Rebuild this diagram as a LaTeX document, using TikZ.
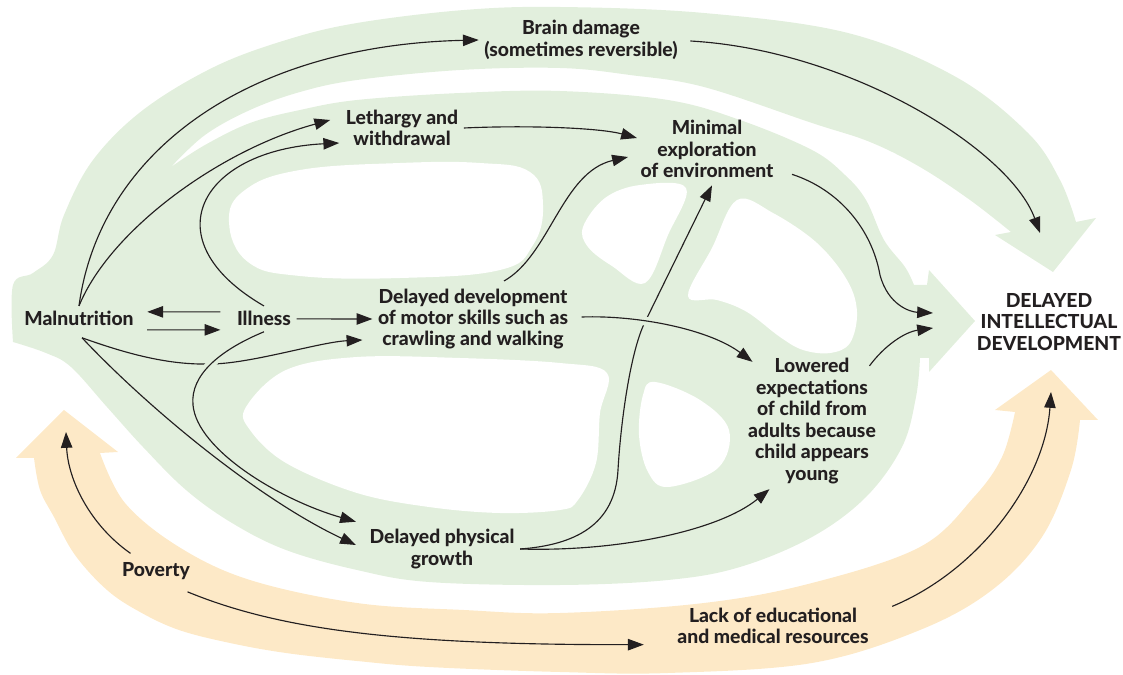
\documentclass[tikz,border=0pt]{standalone}
\usepackage{fontspec}
\setmainfont{Lato}[BoldFont={Lato Heavy}]
\usetikzlibrary{arrows.meta,calc}
\definecolor{leaf}{RGB}{226,239,221}
\definecolor{sand}{RGB}{253,233,199}
\definecolor{ink}{RGB}{35,31,32}
\tikzset{
	lbl/.style={font=\bfseries\fontsize{11}{12.2}\selectfont, text=ink, align=center, inner sep=3pt},
	arr/.style={draw=ink, line width=0.65pt, -{Triangle[length=9pt,width=6.5pt]}},
	cut/.style={preaction={draw=leaf, line width=5pt, arrows=-}}
}
\begin{document}
\begin{tikzpicture}[x=0.02cm, y=-0.02cm]
				\useasboundingbox (0,0) rectangle (1123,675);
				\fill[leaf] plot[smooth, tension=0.6] coordinates {(13,342) (13,285) (33,273) (53,255) (64,215) (93,160) (143,110) (214,67) (286,40) (357,23) (464,10) (560,7) (704,13) (848,33) (956,77) (1028,133) (1060,180) (1076,222)}
					-- (1096,218) -- (1053,272) -- (995,235) -- (1011,232)
					-- plot[smooth, tension=0.6] coordinates {(1011,232) (970,200) (920,167) (870,142) (812,123) (704,87) (630,75) (560,68) (460,70) (357,80) (300,92) (250,110) (205,135) (171,167)}
					-- plot[smooth, tension=0.6] coordinates {(171,167) (205,145) (250,123) (300,110) (357,100) (460,93) (560,91) (668,100) (740,120) (812,150) (845,175) (866,200) (884,240) (905,267) (914,285)}
					-- (927,285) -- (929,270) -- (975,321) -- (929,372) -- (929,358) -- (920,358)
					-- plot[smooth, tension=0.6] coordinates {(920,358) (916,397) (902,447) (866,497) (812,537) (740,567) (668,580) (560,585) (429,582) (357,570) (286,550) (232,523) (186,490) (143,447) (107,407) (71,367) (46,353) (13,342)} -- cycle;
				\fill[white] plot[smooth cycle, tension=0.7] coordinates {(229,222) (245,190) (300,170) (400,163) (480,163) (530,172) (543,205) (533,245) (500,270) (400,278) (300,276) (248,262)};
				\fill[white] plot[smooth cycle, tension=0.6] coordinates {(583,227) (605,198) (640,185) (686,188) (668,235) (645,283) (612,266) (588,247)};
				\fill[white] plot[smooth cycle, tension=0.6] coordinates {(737,200) (773,213) (817,243) (847,280) (857,312) (850,343) (830,353) (803,350) (780,337) (747,312) (717,300) (688,296) (712,248)};
				\fill[white] plot[smooth cycle, tension=0.6] coordinates {(246,407) (286,370) (357,357) (460,358) (560,363) (607,373) (600,413) (596,463) (578,500) (560,510) (500,513) (429,507) (357,493) (286,463) (250,430)};
				\fill[white] plot[smooth cycle, tension=0.6] coordinates {(655,382) (700,400) (729,430) (718,468) (668,487) (648,472) (639,435) (643,395)};
				\fill[sand] plot[smooth, tension=0.6] coordinates {(34,458) (40,490) (54,517) (75,555) (107,590) (140,612) (179,630) (230,643) (286,653) (357,661) (429,667) (560,672) (668,673) (812,663) (920,630) (992,590) (1042,537) (1071,470) (1080,420)}
					-- (1098,420) -- (1051,370) -- (995,410) -- (1015,412)
					-- plot[smooth, tension=0.6] coordinates {(1015,412) (1002,457) (974,497) (920,547) (812,583) (704,603) (560,613) (464,610) (357,603) (250,580) (179,547) (125,503) (100,453)}
					-- (118,452) -- (64,410) -- (16,458) -- cycle;
				\node[lbl] (brain) at (581,40) {Brain damage\\(sometimes reversible)};
				\node[lbl] (leth) at (402,128) {Lethargy and\\withdrawal};
				\node[lbl] (min) at (707,149) {Minimal\\exploration\\of environment};
				\node[lbl, anchor=base] (mal) at (79,326) {Malnutrition};
				\node[lbl, anchor=base] (ill) at (264,326) {Illness};
				\node[lbl] (dev) at (473,319) {Delayed development\\of motor skills such as\\crawling and walking};
				\node[lbl] (did) at (1049,322) {DELAYED\\INTELLECTUAL\\DEVELOPMENT};
				\node[lbl] (low) at (812,421) {Lowered\\expectations\\of child from\\adults because\\child appears\\young};
				\node[lbl] (phys) at (442,549) {Delayed physical\\growth};
				\node[lbl, anchor=base] (pov) at (156,577) {Poverty};
				\node[lbl] (lack) at (773,626) {Lack of educational\\and medical resources};
				\coordinate (did0) at (1040,233);
				\coordinate (did1) at (933,313);
				\coordinate (did2) at (933,328);
				\coordinate (did3) at (1051,392);
				\coordinate (malin) at (66,432);
				\draw[arr] (mal.north) .. controls (100,150) and (250,45) .. (brain.west);
				\draw[arr] (mal.north) .. controls (110,230) and (220,150) .. ($(leth.west)+(-10,-8)$);
				\draw[arr] (ill.north) .. controls (150,240) and (200,150) .. ($(leth.west)+(-1,15)$);
				\draw[arr] (leth.east) .. controls (530,125) and (600,128) .. ($(min.west)+(2,-11)$);
				\draw[arr] ($(dev.north)+(31,-2)$) .. controls (550,255) and (562,172) .. ($(min.west)+(-7,8)$);
				\draw[arr] (phys.east) .. controls (575,545) and (615,525) .. (618,470) .. controls (620.5,425) and (630,352) .. (645,322) -- ($(min.south)+(5,2)$);
				\draw[arr, cut] ($(dev.east)+(8,-2)$) .. controls (640,315) and (710,330) .. ($(low.north west)+(10,9)$);
				\draw[arr] (phys.east) .. controls (620,552) and (720,530) .. ($(low.south west)+(27,0)$);
				\draw[arr] ($(min.south east)+(13,-9)$) .. controls (840,190) and (872,230) .. (880,275) .. controls (888,305) and (910,312) .. (did1);
				\draw[arr] ($(low.north east)+(-12,13)$) .. controls (885,345) and (905,332) .. (did2);
				\draw[arr] ($(ill.west)+(-11,-7)$) -- ($(mal.east)+(8,-7)$);
				\draw[arr] ($(mal.east)+(8,11)$) -- ($(ill.west)+(-11,11)$);
				\draw[arr] (ill.east) -- (dev.west);
				\draw[arr] ($(mal.south)+(3,6)$) .. controls (130,355) and (170,365) .. (210,364) .. controls (250,364) and (320,342) .. ($(dev.west)+(-10,21)$);
				\draw[arr, cut] (ill.south) .. controls (220,350) and (190,375) .. (193,405) .. controls (197,450) and (280,500) .. ($(phys.north west)+(-8,-2)$);
				\draw[arr] ($(mal.south)+(3,6)$) .. controls (150,410) and (260,500) .. ($(phys.west)+(-8,-4)$);
				\draw[arr] ($(pov.north west)+(14,-4)$) .. controls (90,525) and (68,480) .. (malin);
				\draw[arr] ($(pov.south east)+(-8,6)$) .. controls (280,630) and (400,645) .. ($(lack.south west)+(-28,-5)$);
				\draw[arr] ($(lack.north east)+(18,4)$) .. controls (980,570) and (1045,480) .. (did3);
				\draw[arr] ($(brain.east)+(7,1)$) .. controls (850,50) and (1010,150) .. (did0);
\end{tikzpicture}
\end{document}
